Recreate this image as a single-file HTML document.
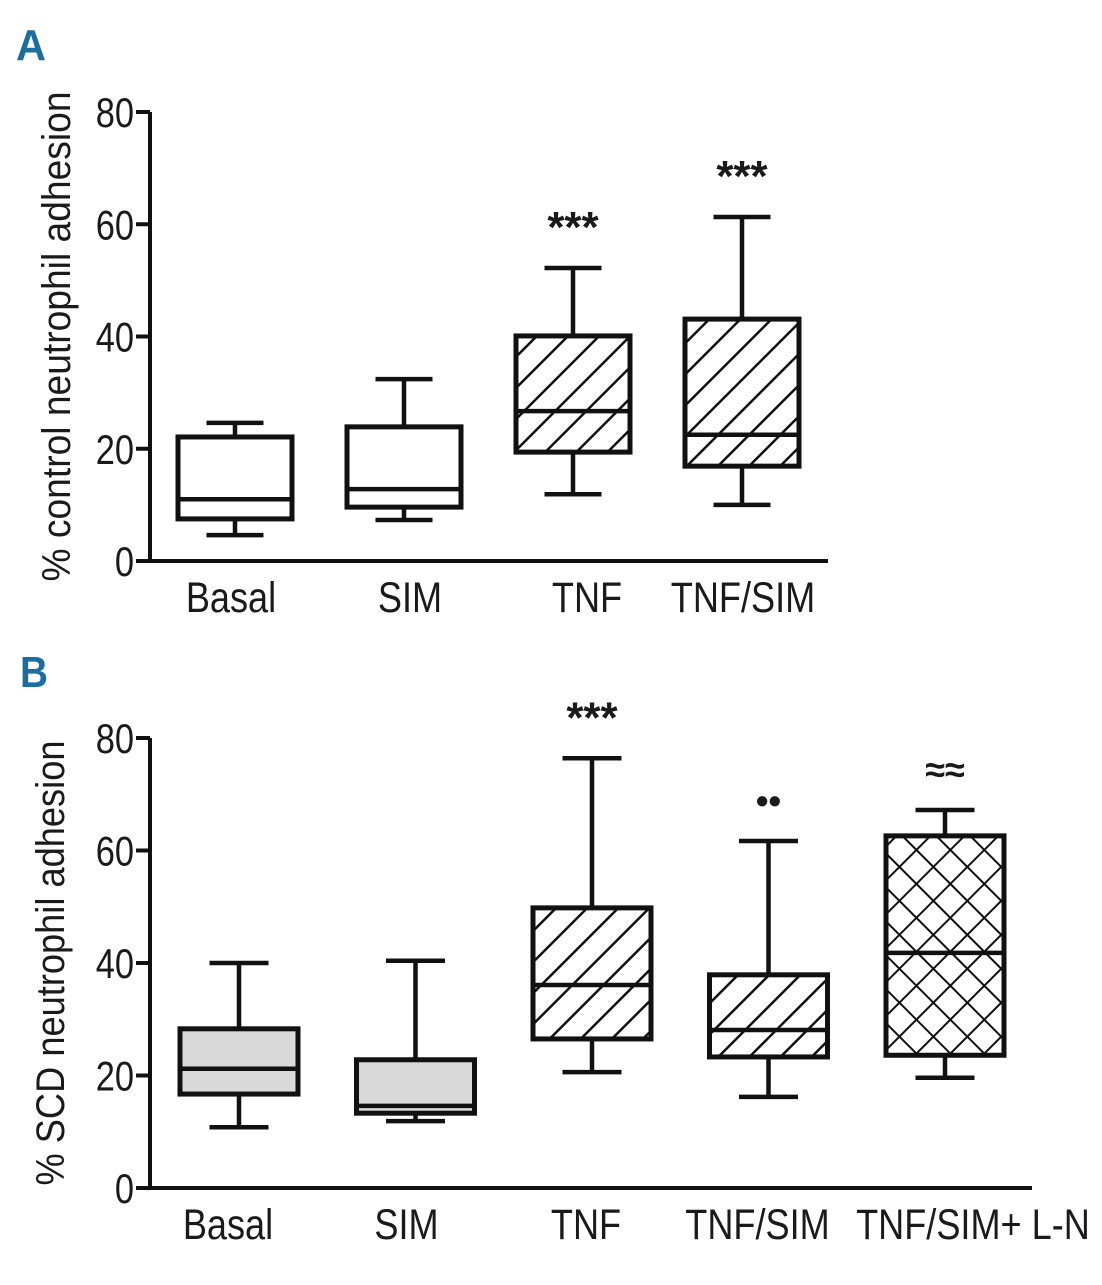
<!DOCTYPE html>
<html><head><meta charset="utf-8"><style>
body{margin:0;background:#fff}
svg text{font-family:"Liberation Sans Narrow","Liberation Sans",sans-serif;fill:#1a1a1a}
</style></head><body>
<svg width="1102" height="1280" viewBox="0 0 1102 1280">
<defs>
<pattern id="hatch" patternUnits="userSpaceOnUse" width="22" height="22" patternTransform="rotate(45)">
<rect width="22" height="22" fill="#fff"/><line x1="0" y1="0" x2="0" y2="22" stroke="#111" stroke-width="5"/></pattern>
<pattern id="cross" patternUnits="userSpaceOnUse" width="24" height="24" patternTransform="rotate(45)">
<rect width="24" height="24" fill="#fff"/><line x1="0" y1="0" x2="0" y2="24" stroke="#111" stroke-width="4"/><line x1="0" y1="0" x2="24" y2="0" stroke="#111" stroke-width="4"/></pattern>
</defs>
<text x="16" y="60" font-size="44" font-weight="bold" textLength="30" lengthAdjust="spacingAndGlyphs" style="fill:#1b6fa0">A</text>
<text x="20" y="687" font-size="44" font-weight="bold" textLength="28" lengthAdjust="spacingAndGlyphs" style="fill:#1b6fa0">B</text>
<g id="pa"></g>
<g id="pb"></g>
</svg>
<script>
const catsA=["Basal","SIM","TNF","TNF/SIM"];
const minA=[4.6,7.3,11.9,10];
const q1A=[7.5,9.6,19.4,16.9];
const medA=[11,12.8,26.7,22.5];
const q3A=[22.1,23.9,40.1,43.1];
const maxA=[24.6,32.4,52.2,61.3];
const fillA=["none","none","hatch","hatch"];
const annA=["","","***","***"];
const catsB=["Basal","SIM","TNF","TNF/SIM","TNF/SIM+ L-N"];
const minB=[10.8,11.9,20.6,16.2,19.6];
const q1B=[16.7,13.3,26.5,23.3,23.6];
const medB=[21.2,14.6,36.1,28.1,41.8];
const q3B=[28.3,22.8,49.8,37.9,62.6];
const maxB=[40,40.4,76.4,61.7,67.2];
const fillB=["gray","gray","hatch","hatch","cross"];
const annB=["","","***","••","≈≈"];
const ticks=[0,20,40,60,80];
const NS="http://www.w3.org/2000/svg";
function mk(p,t,a){const e=document.createElementNS(NS,t);for(const k in a)e.setAttribute(k,a[k]);p.appendChild(e);return e;}
function squeeze(e,f){const w=e.getComputedTextLength();e.setAttribute("textLength",w*f);e.setAttribute("lengthAdjust","spacingAndGlyphs");}
function draw(g,o){
  const y=v=>o.y0-(o.y0-o.y80)*v/80;
  const ax=mk(g,"path",{d:`M${o.ax} ${o.y80}V${o.y0}H${o.xend}`,stroke:"#111","stroke-width":4,fill:"none"});
  
  
  ticks.forEach(t=>{
    const l=mk(g,"line",{x1:o.ax-14,x2:o.ax,y1:y(t),y2:y(t),stroke:"#111","stroke-width":4});
    
    
    const tx=mk(g,"text",{x:o.ax-16,y:y(t)+15,"font-size":42,"text-anchor":"end"});
    tx.textContent=t;
    
    
    squeeze(tx,0.82);
  });
  const yt=mk(g,"text",{transform:`translate(${o.tx},${(o.y0+o.y80)/2}) rotate(-90)`,"font-size":40,"text-anchor":"middle",textLength:o.tlen,lengthAdjust:"spacingAndGlyphs"});
  yt.textContent=o.title;
  
  
  o.cats.forEach((c,i)=>{
    const cx=o.x0+i*o.step, hw=o.bw/2, cw=o.bw/4;
    const b=mk(g,"g",{});
    
    
    const sw={stroke:"#111","stroke-width":4.5,fill:"none"};
    mk(b,"line",{...sw,x1:cx,x2:cx,y1:y(o.max[i]),y2:y(o.q3[i])});
    mk(b,"line",{...sw,x1:cx,x2:cx,y1:y(o.q1[i]),y2:y(o.min[i])});
    mk(b,"line",{...sw,x1:cx-cw,x2:cx+cw,y1:y(o.max[i]),y2:y(o.max[i])});
    mk(b,"line",{...sw,x1:cx-cw,x2:cx+cw,y1:y(o.min[i]),y2:y(o.min[i])});
    const f=o.fill[i]=="hatch"?"url(#hatch)":o.fill[i]=="cross"?"url(#cross)":o.fill[i]=="gray"?"#d9d9d9":"#fff";
    mk(b,"rect",{x:cx-hw,y:y(o.q3[i]),width:o.bw,height:y(o.q1[i])-y(o.q3[i]),fill:f,stroke:"#111","stroke-width":5});
    mk(b,"line",{...sw,x1:cx-hw,x2:cx+hw,y1:y(o.med[i]),y2:y(o.med[i])});
    const lb=mk(g,"text",{x:cx+(o.loff[i]||0),y:o.y0+51,"font-size":43,"text-anchor":"middle"});
    lb.textContent=c;
    
    
    squeeze(lb,0.84);
    if(o.ann[i]){
      const an=mk(g,"text",{x:cx,y:y(o.max[i])-(o.ann[i]=="***"?26:28),"font-size":o.ann[i]=="***"?44:36,"font-weight":"bold","text-anchor":"middle"});
      an.textContent=o.ann[i];
      
      
    }
  });
}
draw(document.getElementById("pa"),{y0:561,y80:112,ax:150,xend:828,x0:235,step:169,bw:114,cats:catsA,min:minA,q1:q1A,med:medA,q3:q3A,max:maxA,fill:fillA,ann:annA,loff:[-4,6,14,1],title:"% control neutrophil adhesion",tx:70,tlen:490});
draw(document.getElementById("pb"),{y0:1188,y80:738,ax:150,xend:1032,x0:239,step:176.5,bw:118,cats:catsB,min:minB,q1:q1B,med:medB,q3:q3B,max:maxB,fill:fillB,ann:annB,loff:[-11,-9,-6,-11,28],title:"% SCD neutrophil adhesion",tx:64,tlen:445});
</script>
</body></html>
